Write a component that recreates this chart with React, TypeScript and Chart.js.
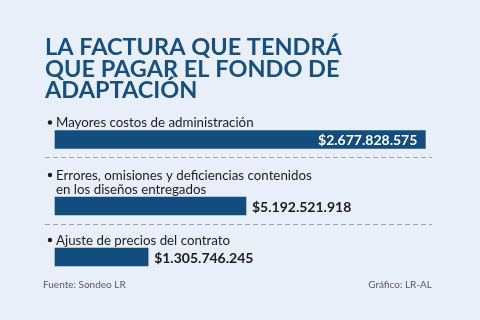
import React, { useEffect, useRef } from "react";
import { Chart, registerables } from "chart.js";

Chart.register(...registerables);

// Title lines
const titleLines = ["LA FACTURA QUE TENDRÁ", "QUE PAGAR EL FONDO DE", "ADAPTACIÓN"];
// Category labels (each entry is one or more text lines)
const categories: string[][] = [
  ["Mayores costos de administración"],
  ["Errores, omisiones y deficiencias contenidos", "en los diseños entregados"],
  ["Ajuste de precios del contrato"],
];
// Bar lengths as drawn in the source graphic (pesos)
const barValues = [5192521918, 2677828575, 1305746245];
// Value labels as printed in the source graphic
const valueLabels = ["$2.677.828.575", "$5.192.521.918", "$1.305.746.245"];
const sourceText = "Fuente: Sondeo LR";
const creditText = "Gráfico: LR-AL";

const BG = "#e8eff9";
const BLUE = "#114e7e";
const TITLE_BLUE = "#174f80";
const ROW_GAP = 51;
const EXTRA_LINE = 15.5;
const FONT = "Lato, 'Open Sans', 'DejaVu Sans', sans-serif";

// row positions on a pixel-unit linear index scale, derived from label line counts
const rowPos: number[] = [];
categories.forEach((c, i) => {
  if (i === 0) rowPos.push(0);
  else rowPos.push(rowPos[i - 1] + ROW_GAP + (c.length - 1) * EXTRA_LINE);
});

const decorPlugin = {
  id: "decor",
  beforeDraw(chart: any) {
    const ctx = chart.ctx;
    ctx.save();
    ctx.fillStyle = BG;
    ctx.fillRect(0, 0, chart.width, chart.height);
    ctx.restore();
  },
  afterDatasetsDraw(chart: any) {
    const ctx = chart.ctx;
    const meta = chart.getDatasetMeta(0);
    const xs = chart.scales.x;
    ctx.save();
    // title
    ctx.fillStyle = TITLE_BLUE;
    ctx.font = `bold 23.5px ${FONT}`;
    ctx.textAlign = "left";
    ctx.textBaseline = "alphabetic";
    titleLines.forEach((t, i) => ctx.fillText(t, 45, 55 + i * 21.5));

    const right = 432;
    meta.data.forEach((bar: any, i: number) => {
      const lines = categories[i];
      const lastBase = bar.y - 12.5;
      ctx.fillStyle = "#1c1c1c";
      ctx.font = `13.3px ${FONT}`;
      ctx.textAlign = "left";
      ctx.textBaseline = "alphabetic";
      lines.forEach((l, j) => {
        const yb = lastBase - (lines.length - 1 - j) * 14;
        ctx.fillText(l, 56, yb);
      });
      const firstBase = lastBase - (lines.length - 1) * 14;
      ctx.beginPath();
      ctx.arc(50, firstBase - 4.5, 2.2, 0, Math.PI * 2);
      ctx.fill();

      // value label
      ctx.font = `bold 14px ${FONT}`;
      ctx.textBaseline = "middle";
      const inside = barValues[i] >= 0.8 * xs.max;
      if (inside) {
        ctx.fillStyle = "#ffffff";
        ctx.textAlign = "right";
        ctx.fillText(valueLabels[i], bar.x - 8, bar.y + 1);
      } else {
        ctx.fillStyle = "#1a1a1a";
        ctx.textAlign = "left";
        ctx.fillText(valueLabels[i], bar.x + 6, bar.y + 1);
      }

      // separator
      if (i < meta.data.length - 1) {
        const ys = Math.round(bar.y + 17.5) + 0.5;
        ctx.strokeStyle = "#9ea4ac";
        ctx.lineWidth = 1;
        ctx.setLineDash([5, 3]);
        ctx.beginPath();
        ctx.moveTo(45, ys);
        ctx.lineTo(right, ys);
        ctx.stroke();
        ctx.setLineDash([]);
      }
    });

    // footer
    ctx.font = `10px ${FONT}`;
    ctx.fillStyle = "#5a5a5a";
    ctx.textBaseline = "middle";
    ctx.textAlign = "left";
    ctx.fillText(sourceText, 43, 285);
    ctx.textAlign = "right";
    ctx.fillText(creditText, right, 285);
    ctx.restore();
  },
};

export default function App() {
  const ref = useRef<HTMLCanvasElement | null>(null);
  useEffect(() => {
    document.body.style.margin = "0";
    const canvas = ref.current;
    if (!canvas) return;
    const chart = new Chart(canvas, {
      type: "bar",
      data: {
        datasets: [
          {
            data: barValues.map((v, i) => ({ x: v, y: rowPos[i] })),
            backgroundColor: BLUE,
            borderWidth: 0,
            barThickness: 18,
            clip: false as any,
          },
        ],
      },
      options: {
        indexAxis: "y",
        animation: false,
        responsive: false,
        devicePixelRatio: 1,
        layout: { padding: { top: 100, bottom: 40, left: 55, right: 47 } },
        plugins: { legend: { display: false }, title: { display: false }, tooltip: { enabled: false } },
        scales: {
          x: { type: "linear", min: 0, max: 5.3e9, display: false, offset: false },
          y: {
            type: "linear",
            min: -39.5,
            max: 140.5,
            reverse: true,
            display: false,
            offset: false,
            grid: { offset: false },
          },
        },
      },
      plugins: [decorPlugin],
    });
    return () => chart.destroy();
  }, []);
  return (
    <div style={{ width: 480, height: 320, background: BG }}>
      <canvas ref={ref} width={480} height={320} />
    </div>
  );
}
